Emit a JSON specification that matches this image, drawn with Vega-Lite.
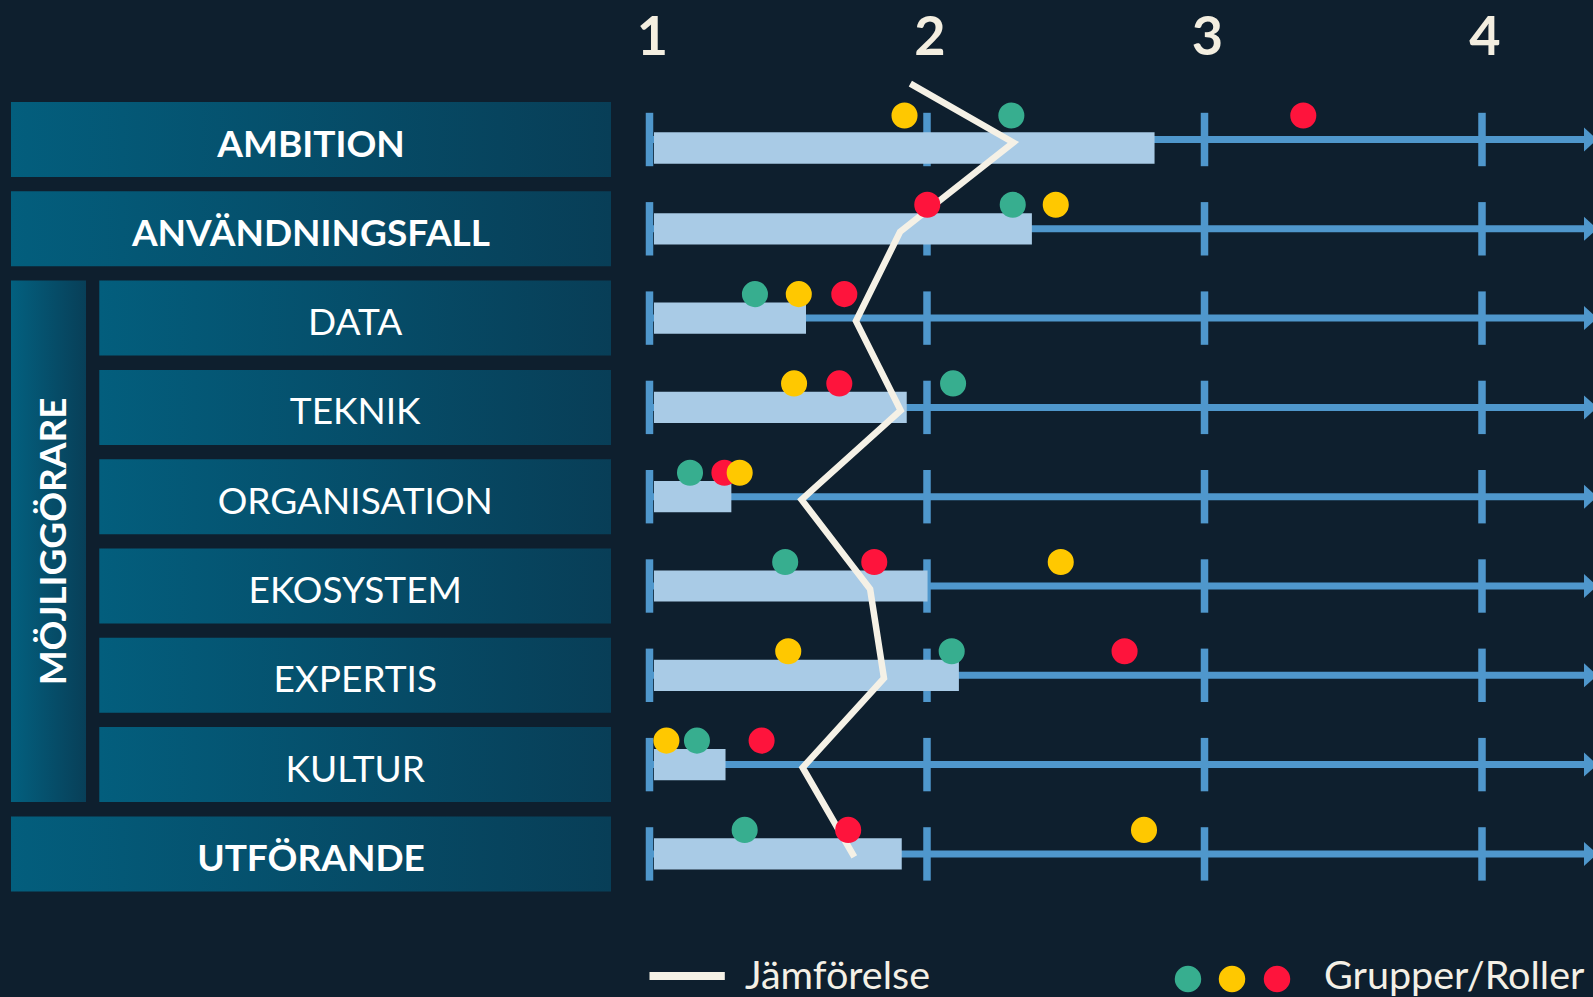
{
  "$schema": "https://vega.github.io/schema/vega-lite/v6.json",
  "width": 1593,
  "height": 997,
  "padding": 0,
  "autosize": {"type": "none"},
  "background": "#0e1f2e",
  "config": {"view": {"stroke": null}, "font": "Lato"},
  "datasets": {
    "rows": [
      {"row": 0, "label": "AMBITION", "kind": "main", "bar": 2.82, "ticks": [1, 2, 3, 4]},
      {"row": 1, "label": "ANVÄNDNINGSFALL", "kind": "main", "bar": 2.378, "ticks": [1, 2, 3, 4]},
      {"row": 2, "label": "DATA", "kind": "sub", "bar": 1.564, "ticks": [1, 2, 3, 4]},
      {"row": 3, "label": "TEKNIK", "kind": "sub", "bar": 1.927, "ticks": [1, 2, 3, 4]},
      {"row": 4, "label": "ORGANISATION", "kind": "sub", "bar": 1.295, "ticks": [1, 2, 3, 4]},
      {"row": 5, "label": "EKOSYSTEM", "kind": "sub", "bar": 2.002, "ticks": [1, 2, 3, 4]},
      {"row": 6, "label": "EXPERTIS", "kind": "sub", "bar": 2.115, "ticks": [1, 2, 3, 4]},
      {"row": 7, "label": "KULTUR", "kind": "sub", "bar": 1.274, "ticks": [1, 2, 3, 4]},
      {"row": 8, "label": "UTFÖRANDE", "kind": "main", "bar": 1.909, "ticks": [1, 2, 3, 4]}
    ],
    "sections": [{"section": "MÖJLIGGÖRARE", "first": 2, "last": 7}],
    "jamforelse": [
      {"order": 0, "row": -0.66, "score": 1.94},
      {"order": 1, "row": 0, "score": 2.311},
      {"order": 2, "row": 1, "score": 1.903},
      {"order": 3, "row": 2, "score": 1.744},
      {"order": 4, "row": 3, "score": 1.905},
      {"order": 5, "row": 4, "score": 1.548},
      {"order": 6, "row": 5, "score": 1.795},
      {"order": 7, "row": 6, "score": 1.845},
      {"order": 8, "row": 7, "score": 1.552},
      {"order": 9, "row": 8, "score": 1.738}
    ],
    "dots": [
      {"row": 0, "group": "Gul", "score": 1.919},
      {"row": 0, "group": "Grön", "score": 2.304},
      {"row": 0, "group": "Röd", "score": 3.356},
      {"row": 1, "group": "Röd", "score": 2.001},
      {"row": 1, "group": "Grön", "score": 2.309},
      {"row": 1, "group": "Gul", "score": 2.464},
      {"row": 2, "group": "Grön", "score": 1.38},
      {"row": 2, "group": "Gul", "score": 1.538},
      {"row": 2, "group": "Röd", "score": 1.702},
      {"row": 3, "group": "Gul", "score": 1.521},
      {"row": 3, "group": "Röd", "score": 1.684},
      {"row": 3, "group": "Grön", "score": 2.094},
      {"row": 4, "group": "Grön", "score": 1.146},
      {"row": 4, "group": "Röd", "score": 1.27},
      {"row": 4, "group": "Gul", "score": 1.325},
      {"row": 5, "group": "Grön", "score": 1.489},
      {"row": 5, "group": "Röd", "score": 1.81},
      {"row": 5, "group": "Gul", "score": 2.482},
      {"row": 6, "group": "Gul", "score": 1.5},
      {"row": 6, "group": "Grön", "score": 2.089},
      {"row": 6, "group": "Röd", "score": 2.712},
      {"row": 7, "group": "Gul", "score": 1.061},
      {"row": 7, "group": "Grön", "score": 1.171},
      {"row": 7, "group": "Röd", "score": 1.404},
      {"row": 8, "group": "Grön", "score": 1.343},
      {"row": 8, "group": "Röd", "score": 1.716},
      {"row": 8, "group": "Gul", "score": 2.782}
    ],
    "ticks": [{"tick": 1}, {"tick": 2}, {"tick": 3}, {"tick": 4}],
    "legend": [{"label": "Jämförelse"}, {"label": "Grupper/Roller"}]
  },
  "layer": [
    {
      "data": {"name": "rows"},
      "transform": [{"filter": "datum.kind === 'main'"}],
      "mark": {"type": "rect", "yOffset": -37.5, "y2Offset": 37.5,
        "fill": {"gradient": "linear", "x1": 0, "y1": 0, "x2": 1, "y2": 0,
          "stops": [{"offset": 0, "color": "#035e7d"}, {"offset": 1, "color": "#083e57"}]}},
      "encoding": {
        "x": {"datum": -1.3009, "type": "quantitative", "scale": {"domain": [-1.3405, 4.4], "nice": false, "zero": false}, "axis": null},
        "x2": {"datum": 0.8613},
        "y": {"field": "row", "type": "quantitative", "scale": {"domain": [-1.5622, 9.6024], "reverse": true, "nice": false, "zero": false}, "axis": null},
        "y2": {"field": "row"}
      }
    },
    {
      "data": {"name": "rows"},
      "transform": [{"filter": "datum.kind === 'sub'"}],
      "mark": {"type": "rect", "yOffset": -37.5, "y2Offset": 37.5,
        "fill": {"gradient": "linear", "x1": 0, "y1": 0, "x2": 1, "y2": 0,
          "stops": [{"offset": 0, "color": "#035e7d"}, {"offset": 1, "color": "#083e57"}]}},
      "encoding": {
        "x": {"datum": -0.9827, "type": "quantitative", "scale": {"domain": [-1.3405, 4.4], "nice": false, "zero": false}, "axis": null},
        "x2": {"datum": 0.8613},
        "y": {"field": "row", "type": "quantitative", "scale": {"domain": [-1.5622, 9.6024], "reverse": true, "nice": false, "zero": false}, "axis": null},
        "y2": {"field": "row"}
      }
    },
    {
      "data": {"name": "sections"},
      "mark": {"type": "rect", "yOffset": -37.5, "y2Offset": 37.5,
        "fill": {"gradient": "linear", "x1": 0, "y1": 0, "x2": 1, "y2": 0,
          "stops": [{"offset": 0, "color": "#03607f"}, {"offset": 1, "color": "#083f58"}]}},
      "encoding": {
        "x": {"datum": -1.3009, "type": "quantitative", "scale": {"domain": [-1.3405, 4.4], "nice": false, "zero": false}, "axis": null},
        "x2": {"datum": -1.0306},
        "y": {"field": "first", "type": "quantitative", "scale": {"domain": [-1.5622, 9.6024], "reverse": true, "nice": false, "zero": false}, "axis": null},
        "y2": {"field": "last"}
      }
    },
    {
      "data": {"name": "rows"},
      "transform": [{"filter": "datum.kind === 'main'"}],
      "mark": {"type": "text", "font": "Lato", "fontWeight": "bold", "fontSize": 37, "color": "#ffffff", "align": "center", "baseline": "alphabetic", "dy": 17},
      "encoding": {
        "x": {"datum": -0.2198, "type": "quantitative", "scale": {"domain": [-1.3405, 4.4], "nice": false, "zero": false}, "axis": null},
        "y": {"field": "row", "type": "quantitative", "scale": {"domain": [-1.5622, 9.6024], "reverse": true, "nice": false, "zero": false}, "axis": null},
        "text": {"field": "label", "type": "nominal"}
      }
    },
    {
      "data": {"name": "rows"},
      "transform": [{"filter": "datum.kind === 'sub'"}],
      "mark": {"type": "text", "font": "Lato", "fontWeight": "normal", "fontSize": 37, "color": "#ffffff", "align": "center", "baseline": "alphabetic", "dy": 17},
      "encoding": {
        "x": {"datum": -0.0605, "type": "quantitative", "scale": {"domain": [-1.3405, 4.4], "nice": false, "zero": false}, "axis": null},
        "y": {"field": "row", "type": "quantitative", "scale": {"domain": [-1.5622, 9.6024], "reverse": true, "nice": false, "zero": false}, "axis": null},
        "text": {"field": "label", "type": "nominal"}
      }
    },
    {
      "data": {"name": "sections"},
      "mark": {"type": "text", "font": "Lato", "fontWeight": "bold", "fontSize": 37, "color": "#ffffff", "align": "center", "baseline": "alphabetic", "angle": 270},
      "encoding": {
        "x": {"datum": -1.1027, "type": "quantitative", "scale": {"domain": [-1.3405, 4.4], "nice": false, "zero": false}, "axis": null},
        "y": {"datum": 4.5, "type": "quantitative", "scale": {"domain": [-1.5622, 9.6024], "reverse": true, "nice": false, "zero": false}, "axis": null},
        "text": {"field": "section", "type": "nominal"}
      }
    },
    {
      "data": {"name": "rows"},
      "mark": {"type": "rule", "color": "#4f97cc", "strokeWidth": 7},
      "encoding": {
        "x": {"datum": 1, "type": "quantitative", "scale": {"domain": [-1.3405, 4.4], "nice": false, "zero": false}, "axis": null},
        "x2": {"datum": 4.3676},
        "y": {"field": "row", "type": "quantitative", "scale": {"domain": [-1.5622, 9.6024], "reverse": true, "nice": false, "zero": false}, "axis": null}
      }
    },
    {
      "data": {"name": "rows"},
      "mark": {"type": "point", "shape": "M-0.5,-1L0.6,0L-0.5,1Z", "size": 576, "filled": true, "opacity": 1, "color": "#4f97cc", "strokeWidth": 0},
      "encoding": {
        "x": {"datum": 4.3892, "type": "quantitative", "scale": {"domain": [-1.3405, 4.4], "nice": false, "zero": false}, "axis": null},
        "y": {"field": "row", "type": "quantitative", "scale": {"domain": [-1.5622, 9.6024], "reverse": true, "nice": false, "zero": false}, "axis": null}
      }
    },
    {
      "data": {"name": "rows"},
      "transform": [{"flatten": ["ticks"], "as": ["tickValue"]}],
      "mark": {"type": "rule", "color": "#4f97cc", "strokeWidth": 7.5, "yOffset": -26.7, "y2Offset": 26.7},
      "encoding": {
        "x": {"field": "tickValue", "type": "quantitative", "scale": {"domain": [-1.3405, 4.4], "nice": false, "zero": false}, "axis": null},
        "y": {"field": "row", "type": "quantitative", "scale": {"domain": [-1.5622, 9.6024], "reverse": true, "nice": false, "zero": false}, "axis": null},
        "y2": {"field": "row"}
      }
    },
    {
      "data": {"name": "rows"},
      "transform": [{"filter": "datum.row > 0"}],
      "mark": {"type": "rect", "color": "#a9cbe6", "x2Offset": 4.5, "yOffset": -15.6, "y2Offset": 15.6},
      "encoding": {
        "x": {"field": "bar", "type": "quantitative", "scale": {"domain": [-1.3405, 4.4], "nice": false, "zero": false}, "axis": null},
        "x2": {"datum": 1},
        "y": {"field": "row", "type": "quantitative", "scale": {"domain": [-1.5622, 9.6024], "reverse": true, "nice": false, "zero": false}, "axis": null},
        "y2": {"field": "row"}
      }
    },
    {
      "data": {"name": "rows"},
      "transform": [{"filter": "datum.row === 0"}],
      "mark": {"type": "rect", "color": "#a9cbe6", "x2Offset": 4.5, "yOffset": -7.2, "y2Offset": 24.2},
      "encoding": {
        "x": {"field": "bar", "type": "quantitative", "scale": {"domain": [-1.3405, 4.4], "nice": false, "zero": false}, "axis": null},
        "x2": {"datum": 1},
        "y": {"field": "row", "type": "quantitative", "scale": {"domain": [-1.5622, 9.6024], "reverse": true, "nice": false, "zero": false}, "axis": null},
        "y2": {"field": "row"}
      }
    },
    {
      "data": {"name": "jamforelse"},
      "mark": {"type": "line", "color": "#f5f1e6", "strokeWidth": 6.5, "strokeJoin": "miter", "strokeMiterLimit": 10, "strokeCap": "butt", "yOffset": 3},
      "encoding": {
        "x": {"field": "score", "type": "quantitative", "scale": {"domain": [-1.3405, 4.4], "nice": false, "zero": false}, "axis": null},
        "y": {"field": "row", "type": "quantitative", "scale": {"domain": [-1.5622, 9.6024], "reverse": true, "nice": false, "zero": false}, "axis": null},
        "order": {"field": "order", "type": "quantitative"}
      }
    },
    {
      "data": {"name": "dots"},
      "mark": {"type": "point", "shape": "circle", "filled": true, "opacity": 1, "size": 680, "strokeWidth": 0, "yOffset": -24},
      "encoding": {
        "x": {"field": "score", "type": "quantitative", "scale": {"domain": [-1.3405, 4.4], "nice": false, "zero": false}, "axis": null},
        "y": {"field": "row", "type": "quantitative", "scale": {"domain": [-1.5622, 9.6024], "reverse": true, "nice": false, "zero": false}, "axis": null},
        "color": {"field": "group", "type": "nominal", "scale": {"domain": ["Grön", "Gul", "Röd"], "range": ["#37ae8f", "#ffc800", "#fe143c"]}, "legend": null}
      }
    },
    {
      "data": {"name": "ticks"},
      "mark": {"type": "text", "font": "Lato", "fontWeight": "bold", "fontSize": 54, "color": "#f3eee0", "align": "center", "baseline": "alphabetic", "dx": 3},
      "encoding": {
        "x": {"field": "tick", "type": "quantitative", "scale": {"domain": [-1.3405, 4.4], "nice": false, "zero": false}, "axis": null},
        "y": {"datum": -0.9462, "type": "quantitative", "scale": {"domain": [-1.5622, 9.6024], "reverse": true, "nice": false, "zero": false}, "axis": null},
        "text": {"field": "tick", "type": "nominal"}
      }
    },
    {
      "data": {"name": "legend"},
      "transform": [{"filter": "datum.label === 'Jämförelse'"}],
      "mark": {"type": "rule", "color": "#f5f1e6", "strokeWidth": 8},
      "encoding": {
        "x": {"datum": 1, "type": "quantitative", "scale": {"domain": [-1.3405, 4.4], "nice": false, "zero": false}, "axis": null},
        "x2": {"datum": 1.2714},
        "y": {"datum": 9.367, "type": "quantitative", "scale": {"domain": [-1.5622, 9.6024], "reverse": true, "nice": false, "zero": false}, "axis": null}
      }
    },
    {
      "data": {"name": "legend"},
      "transform": [{"filter": "datum.label === 'Jämförelse'"}],
      "mark": {"type": "text", "font": "Lato", "fontSize": 39.5, "color": "#f4f0e6", "align": "left", "baseline": "alphabetic"},
      "encoding": {
        "x": {"datum": 1.3442, "type": "quantitative", "scale": {"domain": [-1.3405, 4.4], "nice": false, "zero": false}, "axis": null},
        "y": {"datum": 9.513, "type": "quantitative", "scale": {"domain": [-1.5622, 9.6024], "reverse": true, "nice": false, "zero": false}, "axis": null},
        "text": {"field": "label", "type": "nominal"}
      }
    },
    {
      "data": {"name": "legend"},
      "transform": [{"filter": "datum.label === 'Grupper/Roller'"}],
      "mark": {"type": "point", "shape": "circle", "filled": true, "opacity": 1, "size": 700, "strokeWidth": 0, "color": "#37ae8f"},
      "encoding": {
        "x": {"datum": 2.9405, "type": "quantitative", "scale": {"domain": [-1.3405, 4.4], "nice": false, "zero": false}, "axis": null},
        "y": {"datum": 9.401, "type": "quantitative", "scale": {"domain": [-1.5622, 9.6024], "reverse": true, "nice": false, "zero": false}, "axis": null}
      }
    },
    {
      "data": {"name": "legend"},
      "transform": [{"filter": "datum.label === 'Grupper/Roller'"}],
      "mark": {"type": "point", "shape": "circle", "filled": true, "opacity": 1, "size": 700, "strokeWidth": 0, "color": "#ffc800"},
      "encoding": {
        "x": {"datum": 3.0991, "type": "quantitative", "scale": {"domain": [-1.3405, 4.4], "nice": false, "zero": false}, "axis": null},
        "y": {"datum": 9.401, "type": "quantitative", "scale": {"domain": [-1.5622, 9.6024], "reverse": true, "nice": false, "zero": false}, "axis": null}
      }
    },
    {
      "data": {"name": "legend"},
      "transform": [{"filter": "datum.label === 'Grupper/Roller'"}],
      "mark": {"type": "point", "shape": "circle", "filled": true, "opacity": 1, "size": 700, "strokeWidth": 0, "color": "#fe143c"},
      "encoding": {
        "x": {"datum": 3.2613, "type": "quantitative", "scale": {"domain": [-1.3405, 4.4], "nice": false, "zero": false}, "axis": null},
        "y": {"datum": 9.401, "type": "quantitative", "scale": {"domain": [-1.5622, 9.6024], "reverse": true, "nice": false, "zero": false}, "axis": null}
      }
    },
    {
      "data": {"name": "legend"},
      "transform": [{"filter": "datum.label === 'Grupper/Roller'"}],
      "mark": {"type": "text", "font": "Lato", "fontSize": 39.5, "color": "#f4f0e6", "align": "left", "baseline": "alphabetic"},
      "encoding": {
        "x": {"datum": 3.4306, "type": "quantitative", "scale": {"domain": [-1.3405, 4.4], "nice": false, "zero": false}, "axis": null},
        "y": {"datum": 9.513, "type": "quantitative", "scale": {"domain": [-1.5622, 9.6024], "reverse": true, "nice": false, "zero": false}, "axis": null},
        "text": {"field": "label", "type": "nominal"}
      }
    }
  ]
}
